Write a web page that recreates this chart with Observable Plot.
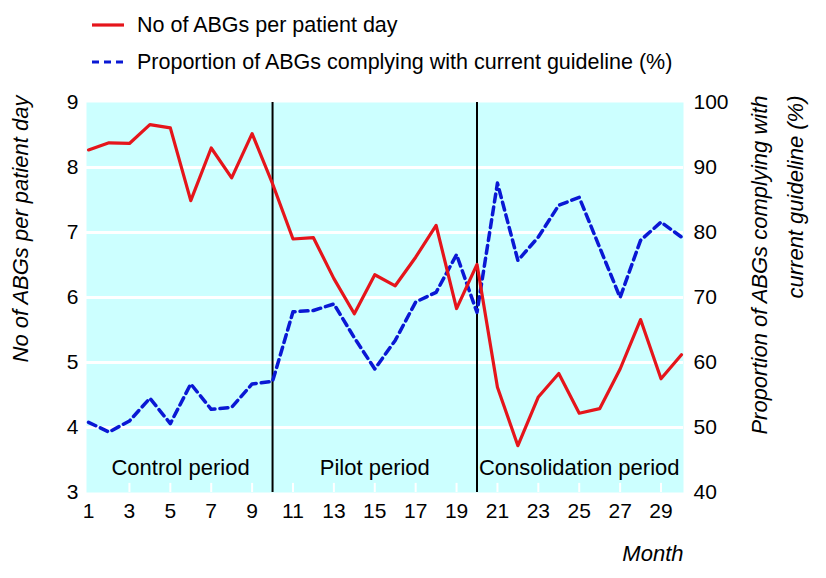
<!DOCTYPE html>
<html>
<head>
<meta charset="utf-8">
<script src="https://cdn.jsdelivr.net/npm/d3@7"></script>
<script src="https://cdn.jsdelivr.net/npm/@observablehq/plot@0.6"></script>
<style>
  body { margin: 0; background: #fff; font-family: "Liberation Sans", Arial, sans-serif; }
  #legend { position: relative; width: 826px; height: 80px; font-size: 21.5px; color: #000; }
  .item { position: absolute; left: 92px; height: 30px; display: flex; align-items: center; white-space: nowrap; }
  .item svg { display: block; margin-right: 13px; }
  #chart svg { display: block; }
</style>
</head>
<body>
<div id="legend"></div>
<div id="chart"></div>
<script>
// ---- data ----
const months = [1,2,3,4,5,6,7,8,9,10,11,12,13,14,15,16,17,18,19,20,21,22,23,24,25,26,27,28,29,30];
const abgPerDay = [8.27,8.38,8.37,8.66,8.61,7.49,8.30,7.84,8.52,7.75,6.90,6.92,6.29,5.75,6.35,6.18,6.62,7.11,5.83,6.51,4.62,3.72,4.47,4.83,4.22,4.29,4.90,5.66,4.75,5.12];
const compliance = [50.8,49.3,51.0,54.5,50.6,56.7,52.8,53.1,56.7,57.1,67.8,68.0,69.0,63.8,59.0,63.4,69.3,70.8,76.6,67.7,87.6,75.7,79.3,84.2,85.4,77.7,70.0,78.8,81.6,79.3];
const xTickLabels = [1,3,5,7,9,11,13,15,17,19,21,23,25,27,29];
const leftTicks = [3,4,5,6,7,8,9];
const rightTicks = [40,50,60,70,80,90,100];
const periodNames = ["Control period","Pilot period","Consolidation period"];
const periodBounds = [1,10,20,30];
const seriesNames = ["No of ABGs per patient day","Proportion of ABGs complying with current guideline (%)"];
const leftTitle = "No of ABGs per patient day";
const rightTitleLines = ["Proportion of ABGs complying with", "current guideline (%)"];
const xTitle = "Month";

// ---- styling ----
const FONT = '"Liberation Sans",Arial,sans-serif';
const RED = "#e5151b";
const BLUE = "#0a18d4";
const BG = "#ccffff";

// right axis (40-100) expressed on the left scale (3-9)
const toLeft = p => 3 + (p - 40) / 10;
const fromLeft = v => String(Math.round(40 + (v - 3) * 10));

const data = months.map((m, i) => ({month: m, abg: abgPerDay[i], pct: compliance[i]}));
const periods = periodNames.map((name, i) => ({name, start: periodBounds[i], end: periodBounds[i + 1]}));
const dividers = periodBounds.slice(1, -1);
const gridLines = leftTicks.slice(1, -1);
const minorTicks = xTickLabels.slice(1);

// ---- legend ----
const legend = document.getElementById("legend");
seriesNames.forEach((name, i) => {
  const item = document.createElement("div");
  item.className = "item";
  item.style.top = (i === 0 ? 10 : 47) + "px";
  const dash = i === 0 ? "" : 'stroke-dasharray="7,5"';
  const col = i === 0 ? RED : BLUE;
  item.innerHTML = `<svg width="32" height="8"><line x1="0" x2="32" y1="4" y2="4" stroke="${col}" stroke-width="3.2" ${dash}/></svg><span>${name}</span>`;
  legend.appendChild(item);
});

// ---- chart ----
const chart = Plot.plot({
  width: 826,
  height: 498,
  marginTop: 22,
  marginBottom: 86,
  marginLeft: 86,
  marginRight: 143,
  style: {fontFamily: FONT, fontSize: "21px", background: "white", color: "black", overflow: "visible"},
  x: {domain: [0.9, 30.1]},
  y: {domain: [3, 9]},
  marks: [
    Plot.frame({fill: BG, stroke: "none"}),
    Plot.ruleY(gridLines, {stroke: "white", strokeWidth: 3}),
    Plot.ruleX(minorTicks, {y1: 3, y2: 3.14, stroke: "white", strokeWidth: 2}),
    Plot.ruleX(dividers, {stroke: "black", strokeWidth: 2}),
    Plot.text(periods, {x: d => (d.start + d.end) / 2, y: 3.37, text: d => d.name, fontSize: 22}),
    Plot.line(data, {x: "month", y: d => toLeft(d.pct), stroke: BLUE, strokeWidth: 3.5, strokeDasharray: "8,5"}),
    Plot.line(data, {x: "month", y: "abg", stroke: RED, strokeWidth: 3.2}),
    Plot.axisY({ticks: leftTicks, tickFormat: d => String(d), tickSize: 0, tickPadding: 8, label: null}),
    Plot.axisY({anchor: "right", ticks: rightTicks.map(toLeft), tickFormat: fromLeft, tickSize: 0, tickPadding: 10, label: null}),
    Plot.axisX({ticks: xTickLabels, tickFormat: d => String(d), tickSize: 0, tickPadding: 11, label: null}),
    Plot.text([leftTitle], {text: d => d, frameAnchor: "top-left", rotate: -90, textAnchor: "end", dx: -74, dy: -7, fontStyle: "italic", fontSize: 22}),
    Plot.text([rightTitleLines[0]], {text: d => d, frameAnchor: "top-right", rotate: -90, textAnchor: "end", dx: 68, dy: -7, fontStyle: "italic", fontSize: 22}),
    Plot.text([rightTitleLines[1]], {text: d => d, frameAnchor: "top-right", rotate: -90, textAnchor: "end", dx: 104, dy: -7, fontStyle: "italic", fontSize: 22}),
    Plot.text([xTitle], {text: d => d, frameAnchor: "bottom-right", textAnchor: "end", dy: 68, fontStyle: "italic", fontSize: 22})
  ]
});
document.getElementById("chart").appendChild(chart);
</script>
</body>
</html>
